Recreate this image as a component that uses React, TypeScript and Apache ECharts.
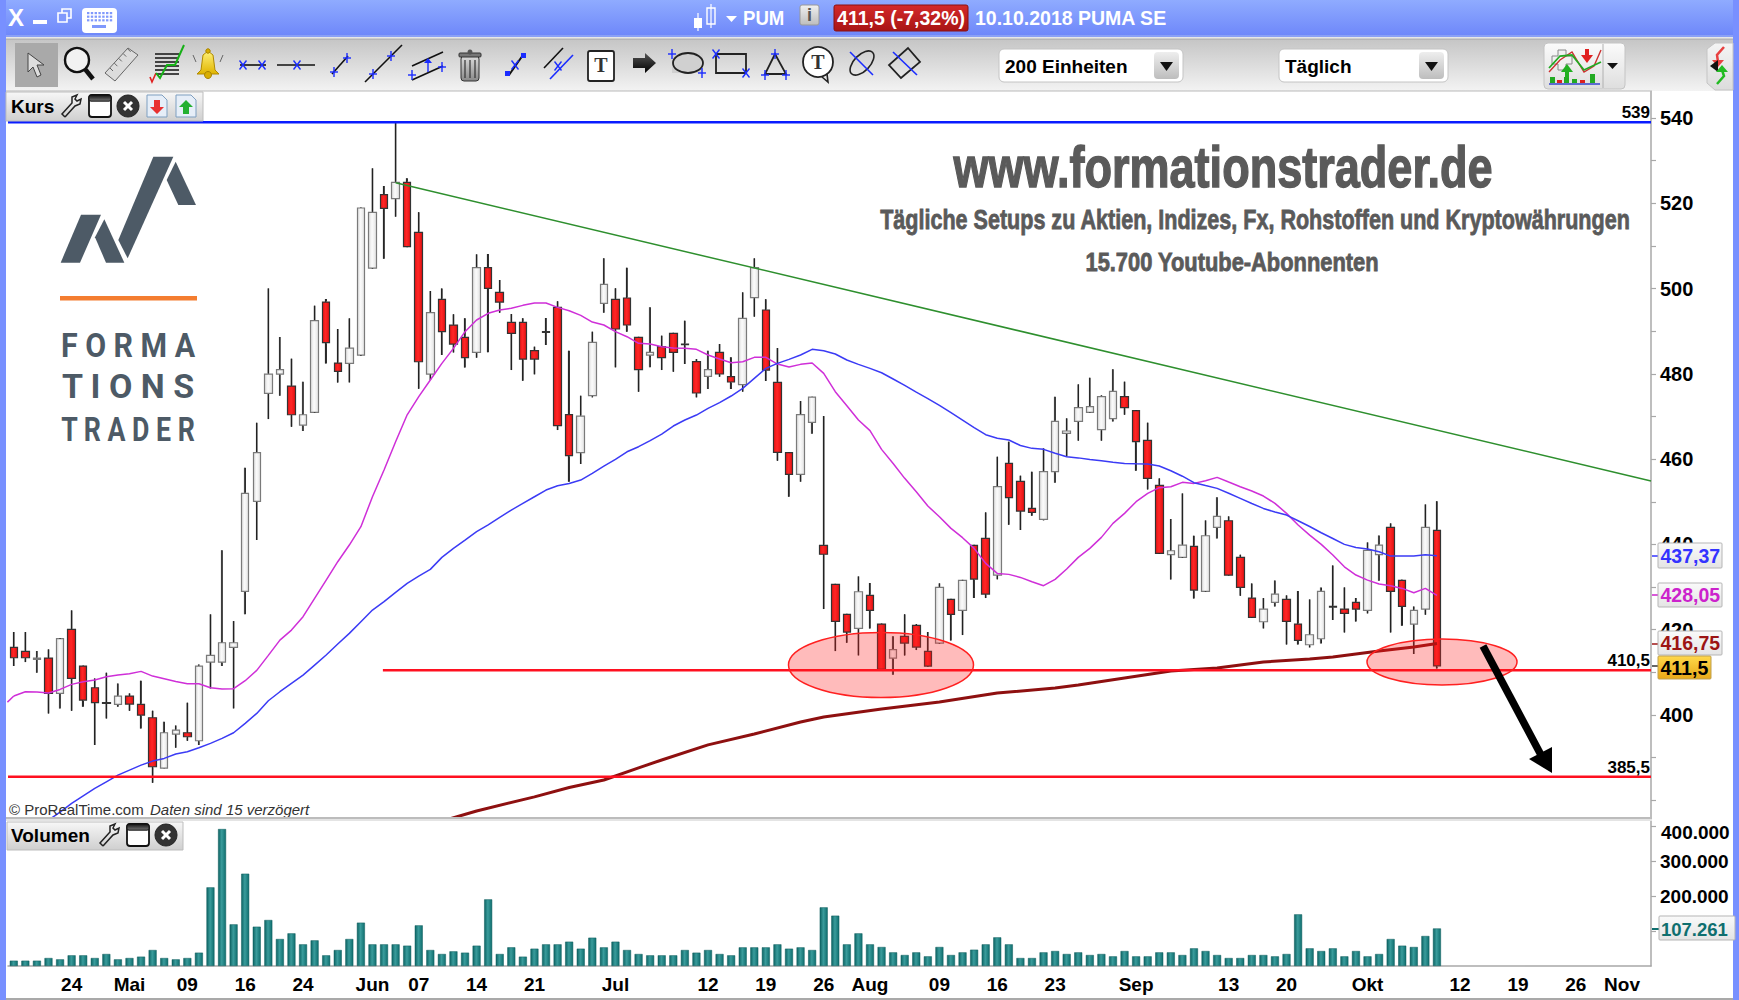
import React, { useEffect, useRef } from "react";
import * as echarts from "echarts";

// ---------- DATA ----------
const SLOTS = 142;
const tickLabelByIndex: Record<number, string> = {
  5: "24", 10: "Mai", 15: "09", 20: "16", 25: "24", 31: "Jun", 35: "07", 40: "14", 45: "21", 52: "Jul",
  60: "12", 65: "19", 70: "26", 74: "Aug", 80: "09", 85: "16", 90: "23", 97: "Sep", 105: "13", 110: "20",
  117: "Okt", 125: "12", 130: "19", 135: "26", 139: "Nov",
};
const categories: string[] = Array.from({ length: SLOTS }, (_, i) => tickLabelByIndex[i] ?? "");

// [open, close, low, high]
const candles: number[][] = [
  [415.85,413.43,411.48,419.45],[414.92,413.43,412.41,419.45],[413.04,413.35,409.91,414.99],[413.35,405.06,400.37,415.39],
  [405.06,417.89,401.55,417.89],[420.08,408.58,401,424.53],[411.48,403.5,401.94,411.48],[406.39,402.88,392.95,408.58],
  [402.88,402.72,399.2,409.91],[402.48,404.44,401.94,407.41],[404.44,402.56,401,405.06],[402.48,399.98,396.85,408.04],
  [399.36,387.86,384.11,401],[387.55,395.84,387.47,398.42],[395.53,396.46,392.32,397.56],[395.84,394.9,393.96,402.88],
  [393.96,411.48,392.95,411.87],[412.41,413.98,406.24,423.6],[412.41,416.95,411.48,438.61],[415.85,416.95,401.55,422.03],
  [428.99,451.98,423.6,458],[450.1,461.52,441.03,468.55],[475.43,479.96,469.4,500.05],[479.96,480.98,474.88,488.64],
  [477.14,470.42,467.6,483.56],[468,470.42,466.59,478.16],[470.97,492.47,470.97,496],[496.85,487.31,482.46,497.55],
  [482.54,480.58,478,490.5],[482.46,486.06,478,493.02],[484.4,518.9,484.4,518.9],[504.82,517.88,504.82,528.2],
  [522.03,518.82,507,524.06],[521.09,524.92,516.86,539],[524.92,509.83,509.83,525.86],[513.19,482.85,476.52,517.88],
  [479.96,494.35,478.55,499.43],[497.47,489.89,484.4,500.05],[491.45,486.98,485.04,493.96],[488.56,483.79,481.52,493.02],
  [485.04,504.9,483.79,508.03],[504.91,500.06,485.05,508.11],[499.12,496.85,494.35,502.02],[492.09,489.51,480.9,494.04],
  [492.09,483.48,478.4,493.02],[485.44,483.48,479.89,486.38],[489.9,489.74,486.77,493.1],[495.6,467.85,466.83,497.01],
  [470.43,460.81,454.71,485.44],[461.51,470.11,458.86,474.88],[474.88,487.39,474.49,489.9],[496.54,501,494.35,507.1],
  [497.48,490.52,481.53,500.06],[497.79,491.46,489.9,504.91],[488.57,480.98,475.82,488.57],[484.42,485.05,481.53,495.6],
  [486.38,483.8,480.9,488.96],[489.51,485.05,480.51,489.51],[487,486.85,482.31,492.48],[482.86,475.51,474.49,483.48],
  [479.42,480.98,476.45,485.44],[485.05,479.97,479.34,487],[479.34,478.09,476.45,483.88],[477.46,493.02,475.82,499.12],
  [497.87,504.91,493.41,507.1],[494.98,480.9,478.33,497.48],[478.01,461.59,459.64,486.06],[461.51,456.43,451.19,461.59],
  [456.43,470.43,454.71,473.63],[468.63,474.57,465.97,474.65],[439.8,437.7,424.85,470.1],[430.63,421.95,414.99,430.63],
  [423.6,419.45,416.95,423.6],[420.31,428.91,413.98,432.51],[428.05,424.53,420.31,430.94],[421.33,410.69,410.69,421.33],
  [413.35,415.31,409.44,418.44],[418.44,416.87,413.98,423.6],[421.02,415.93,415.23,421.33],[414.92,411.48,411.48,419.45],
  [416.87,429.93,416.87,430.87],[427.11,423.6,417.5,427.11],[424.53,431.57,418.75,431.57],[439.78,431.88,427.43,439.78],
  [441.42,428.37,427.43,447.52],[432.82,453.54,431.81,460.58],[459.02,450.96,444.63,464.1],[454.79,447.83,443.38,456.12],
  [448.46,447.52,446.74,457.06],[445.88,457.06,445.65,462.53],[457.06,468.86,454.48,474.65],[466.05,466.6,460.58,469.57],
  [468.86,472.07,464.33,477.54],[470.97,472.3,470.97,479.11],[466.91,474.65,464.33,474.96],[469.49,475.9,468.86,481.06],
  [474.65,472.07,470.43,478.17],[471.37,464.09,457.29,471.37],[464.41,455.49,452.91,468.55],[453.85,437.9,437.9,455.49],
  [437.59,438.52,431.8,445.95],[436.96,439.85,436.96,451.97],[439.54,429.3,427.34,442.04],[429,442.04,429,445.64],
  [444,446.58,441.42,451.04],[445.56,432.82,432.82,446.58],[436.96,429.92,427.97,437.59],[427.42,422.89,422.89,430.86],
  [421.87,424.84,420.31,427.42],[426.41,428.36,425.47,431.57],[427.11,421.95,416.55,428.05],[421.32,417.49,416.55,429.07],
  [416.48,418.82,415.85,427.11],[417.88,428.99,416.79,429.92],[425.47,425.31,422.26,435.09],[424.84,423.83,419.37,429.92],
  [426.41,424.84,421.95,427.42],[424.53,438.6,423.83,440.48],[437.59,439.85,431.49,442.12],[444,429,419.37,444.94],
  [431.57,425.47,420.93,431.8],[421.32,424.53,414.29,425.47],[424.84,444,423.51,449.39],[443.29,411.5,410.93,450.1],
];

const maMagenta: number[] = [
  404.44,405.46,405.38,405.14,406,407.18,407.8,408.19,408.97,409.36,409.68,410.23,409.13,408.5,407.88,407.33,407.33,406.39,406.08,406.16,
  408.04,410.46,413.98,417.57,419.92,423.05,427.35,431.65,435.95,439.86,444.16,451.2,457.45,464.1,470.4,474.65,478.56,482.47,485.99,489.9,
  492.63,494.2,494.98,495.37,496.07,496.62,496.62,495.6,494.82,493.73,492.16,491.46,489.9,488.72,487.16,487,486.38,486.06,485.99,485.75,
  484.42,483.48,482.63,482.86,483.88,483.88,482.31,481.61,482.23,482.55,480.12,475.82,472.54,469.18,466.68,462.3,459,455.5,452.37,449,
  446.5,443.77,441.58,439.08,435.56,433.21,432.98,432.27,431.26,430.32,431.81,434.23,436.97,439.08,441.66,444.94,447.29,450.02,451.98,453.31,
  453.54,454.56,454.32,454.95,455.73,454.63,453.54,452.52,451.35,449.63,447.29,444.55,442.2,440.01,437.51,434.76,432.82,431.63,430.71,430.32,
  429.69,428.67,429.69,428.05,
];
const maMagentaLead: number[][] = [[-0.55,403.0],[0,404.44]];
const maBlue: (number | null)[] = [
  null,null,null,375.35,377.23,379.26,381.06,382.78,384.34,385.91,387.08,388.25,389.19,389.82,390.84,391.38,392.32,393.34,394.51,395.84,
  398.03,400.37,403.34,405.46,407.41,409.36,411.71,414.06,416.64,419.14,421.88,424.61,426.57,428.76,430.87,432.59,434.15,436.97,439.08,441.03,
  442.99,444.6,446.34,448.07,449.63,451.19,452.76,453.76,454.31,455.1,456.67,458.37,459.95,461.73,462.92,464.33,465.88,467.77,469.18,470.35,
  471.91,473.25,474.81,476.6,478.95,481.29,482.47,483.4,484.42,485.75,485.44,484.66,483.25,482.23,481.29,480.27,478.8,477.3,475.7,474.2,
  472.6,470.9,469.18,467.4,465.74,464.9,464.49,463.2,462.53,462.3,461.4,460.58,460.3,459.9,459.64,459.3,459.01,458.9,458.86,458.4,
  457.29,456,454.48,453.8,453.15,452,450.8,449.6,448.45,447.6,446.89,445.56,444.2,442.75,441.4,440.01,439.3,438.92,438.3,437.27,
  437.27,437.27,437.59,437.37,
];
// slow average: points [bar index, value]
const ma200Points: number[][] = [
  [37.5,375.5],[40,377.5],[45,380.8],[48,383],[51,384.76],[54,387.6],[56,389.45],[60,393],[64,395.54],[68,398.36],[70,399.53],[75,401.41],
  [80,403.05],[85,405.16],[90,406.33],[92,407.04],[96,408.68],[100,410.32],[104,411.02],[108,412.43],[112,413.13],[114,413.6],[118,415],[121,415.95],[123,416.75],
];
const trendLinePoints: number[][] = [[33,524.8],[141.5,454.9]];
const resistance539: number[][] = [[-0.5,539],[141.5,539]];
const support4105: number[][] = [[31.9,410.5],[141.5,410.5]];
const support3855: number[][] = [[-0.5,385.5],[141.5,385.5]];

const volumes: number[] = [
  15200,15200,15200,22800,19000,30500,30500,22800,34300,19000,22800,26700,45700,22800,19000,22800,38100,224700,391300,119000,
  263700,112300,131400,77100,93300,61900,73300,30500,45700,77100,123800,61900,61900,61900,58100,116100,45700,34300,41900,38100,
  58100,190400,34300,53300,26700,49500,61900,61900,69500,49500,80900,53300,69500,45700,34300,30500,30500,30500,45700,38100,
  45700,34300,30500,53300,53300,53300,61900,49500,53300,45700,167600,143800,61900,93300,61900,54300,39000,31400,39000,27600,
  54300,31400,39000,46600,61900,81900,61900,22800,22800,39000,42800,34300,39000,31400,34300,27600,42800,27600,27600,39000,
  39000,31400,50500,42800,31400,22800,22800,31400,31400,27600,34300,147600,50500,42800,50500,27600,42800,27600,34300,77100,
  58100,54300,85700,107261,
];

const priceLabelTicks = [400,420,440,460,480,500,520,540];
const priceAllTicks = [380,390,400,410,420,430,440,450,460,470,480,490,500,510,520,530,540];
const volumeTicks = [100000,200000,300000,400000];
const volumeLabelTicks = [200000,300000];

// ---------- helpers for page furniture ----------
const SANS = '"Liberation Sans", Arial, sans-serif';
const txt = (text: string, x: number, y: number, font: string, fill: string, align = "left", extra: any = {}) => {
  const { styleExtra, ...rest } = extra;
  return {
    type: "text", x, y, z: 20, silent: true, ...rest,
    style: { text, font, fill, align, verticalAlign: "middle", ...(styleExtra ?? {}) },
  };
};
const rect = (x: number, y: number, w: number, h: number, fill: any, stroke?: string, r = 0, z = 15, lw = 1) => ({
  type: "rect", z, silent: true, shape: { x, y, width: w, height: h, r },
  style: { fill, stroke: stroke ?? "none", lineWidth: lw },
});
const ln = (x1: number, y1: number, x2: number, y2: number, stroke = "#111", lw = 1.6, z = 16) => ({
  type: "line", z, silent: true, shape: { x1, y1, x2, y2 }, style: { stroke, lineWidth: lw },
});
const poly = (points: number[][], fill: any, stroke?: string, lw = 1, z = 16) => ({
  type: "polygon", z, silent: true, shape: { points }, style: { fill, stroke: stroke ?? "none", lineWidth: lw },
});
const pline = (points: number[][], stroke: string, lw = 1.6, z = 16) => ({
  type: "polyline", z, silent: true, shape: { points }, style: { fill: "none", stroke, lineWidth: lw },
});
const circ = (cx: number, cy: number, r: number, fill: any, stroke?: string, lw = 1, z = 16) => ({
  type: "circle", z, silent: true, shape: { cx, cy, r }, style: { fill, stroke: stroke ?? "none", lineWidth: lw },
});
const ell = (cx: number, cy: number, rx: number, ry: number, fill: any, stroke: string, lw = 1.5, z = 10) => ({
  type: "ellipse", z, silent: true, shape: { cx, cy, rx, ry }, style: { fill, stroke, lineWidth: lw },
});
const vGrad = (a: string, b: string) => new echarts.graphic.LinearGradient(0, 0, 0, 1, [{ offset: 0, color: a }, { offset: 1, color: b }]);
const hGrad3 = (a: string, b: string, c: string) =>
  new echarts.graphic.LinearGradient(0, 0, 1, 0, [{ offset: 0, color: a }, { offset: 0.45, color: b }, { offset: 1, color: c }]);

const BLUEMARK = "#1a2cff";
const plus = (x: number, y: number) => [ln(x - 4, y, x + 4, y, BLUEMARK, 1.4, 17), ln(x, y - 5, x, y + 5, BLUEMARK, 1.4, 17)];
const cross = (x: number, y: number) => [ln(x - 3.5, y - 4.5, x + 3.5, y + 4.5, BLUEMARK, 1.4, 17), ln(x - 3.5, y + 4.5, x + 3.5, y - 4.5, BLUEMARK, 1.4, 17)];
const wrench = (x: number, y: number, h = 11) => [
  pline([[x - 6, y + h], [x - 9, y + h - 3], [x + 1, y - 3], [x + 1, y - h + 2], [x + 6, y - h], [x + 4, y - h + 4], [x + 6, y - 5], [x + 10, y - 7], [x + 9, y - 2], [x + 4, y], [x - 6, y + h]], "#222", 1.5),
];
const winIcon = (x: number, y: number, w = 22, h = 22) => [
  rect(x - w / 2, y - h / 2, w, h, "#ffffff", "#111", 3, 16, 1.8),
  rect(x - w / 2, y - h / 2, w, h * 0.28, vGrad("#111", "#777"), "#111", 2, 16),
];
const closeIcon = (x: number, y: number, r = 11) => [
  circ(x, y, r, "#333", "#222"),
  ln(x - 4, y - 4, x + 4, y + 4, "#fff", 3, 17),
  ln(x - 4, y + 4, x + 4, y - 4, "#fff", 3, 17),
];
const docIcon = (x: number, y: number, col: string, up: boolean) => [
  poly([[x - 10, y - 11], [x + 5, y - 11], [x + 10, y - 6], [x + 10, y + 11], [x - 10, y + 11]], "#e6eef8", "#7f9fc0", 1),
  up
    ? poly([[x, y - 6], [x + 7, y + 1], [x + 3, y + 1], [x + 3, y + 8], [x - 3, y + 8], [x - 3, y + 1], [x - 7, y + 1]], col)
    : poly([[x, y + 8], [x + 7, y + 1], [x + 3, y + 1], [x + 3, y - 6], [x - 3, y - 6], [x - 3, y + 1], [x - 7, y + 1]], col),
];
const dropdown = (x: number, w: number, label: string, btnX: number) => [
  rect(x, 49, w, 33, "#ffffff", "#c4c4c4", 5, 15),
  txt(label, x + 6, 66, `bold 19px ${SANS}`, "#000"),
  rect(btnX, 52, 25, 27, vGrad("#eeeeee", "#bdbdbd"), "none", 4, 16),
  poly([[btnX + 6, 62], [btnX + 19, 62], [btnX + 12.5, 71]], "#111"),
];
const valueBox = (x: number, y: number, w: number, h: number, label: string, color: string, tickY: number, font = 19.5) => [
  rect(x, y, w, h, vGrad("#fafafa", "#e4e4e4"), "#b5b5b5", 1, 15),
  ln(1652, tickY, x, tickY, color, 1.5, 14),
  txt(label, x + 2.5, y + h / 2, `bold ${font}px ${SANS}`, color),
];

function furniture(): any[] {
  const g: any[] = [];
  // window frame
  g.push(rect(0, 0, 1739, 35, vGrad("#8fabff", "#6f88fa"), undefined, 0, 1));
  g.push(rect(0, 35, 1739, 2, "#8aa0f5", undefined, 0, 1));
  g.push(rect(0, 37, 1739, 3, vGrad("#f4f4f4", "#a8a8a8"), undefined, 0, 1));
  g.push(rect(0, 40, 1739, 51, vGrad("#c6c6c6", "#f3f3f3"), undefined, 0, 1));
  g.push(rect(0, 0, 6, 1000, "#7890ff", undefined, 0, 12));
  g.push(rect(1733, 0, 6, 1000, "#7890ff", undefined, 0, 12));
  g.push(rect(6, 998, 1727, 2, "#a9a9a9", undefined, 0, 12));
  g.push(ln(6, 91, 1652, 91, "#b9b9b9", 1, 12));
  g.push(rect(6, 817, 1646, 2, "#bcbcbc", undefined, 0, 12));
  g.push(rect(6, 819, 1646, 2, "#e4e4e4", undefined, 0, 12));

  // title bar
  g.push(txt("X", 16, 17, `bold 24px ${SANS}`, "#fff", "center"));
  g.push(rect(33, 20, 14, 4, "#fff", undefined, 0, 16));
  g.push(rect(62, 9, 9, 9, "none", "#fff", 0, 16, 1.6));
  g.push(rect(58, 13, 9, 9, "#8099fc", "#fff", 0, 16, 1.6));
  g.push(rect(82, 8, 35, 25, "#ffffff", undefined, 4, 16));
  for (let r = 0; r < 3; r++) for (let c = 0; c < 7; c++) g.push(rect(87 + c * 3.8, 12 + r * 3.6, 2.4, 2.2, "#8099fc", undefined, 0, 17));
  g.push(rect(92, 25, 14, 3, "#8099fc", undefined, 0, 17));
  g.push(ln(698, 13, 698, 31, "#fff", 1.2), rect(694, 18, 8, 10, "#fff", undefined, 0, 16));
  g.push(ln(711, 4, 711, 28, "#fff", 1.2), rect(707, 8, 8, 16, "none", "#fff", 0, 16, 1.4));
  g.push(poly([[726, 16], [737, 16], [731.5, 22]], "#fff"));
  g.push(txt("PUM", 743, 18, `bold 20px ${SANS}`, "#fff", "left", { scaleX: 0.93 }));
  g.push(rect(800, 5, 19, 20, vGrad("#f0f0f0", "#bdbdbd"), "#999", 2, 16));
  g.push(txt("i", 809.5, 15, `bold 18px ${SANS}`, "#555", "center"));
  g.push(rect(834, 5, 134, 26, vGrad("#d42a2a", "#a81414"), "#8a1010", 2, 16));
  g.push(txt("411,5 (-7,32%)", 901, 18, `bold 19.5px ${SANS}`, "#fff", "center"));
  g.push(txt("10.10.2018 PUMA SE", 975, 18, `bold 19.5px ${SANS}`, "#fff"));

  // toolbar
  g.push(rect(15, 43, 43, 44, "#a9a9a9", undefined, 0, 14));
  g.push(poly([[28, 53], [28, 72], [33, 67], [37, 77], [41, 75], [37, 65], [44, 65]], "#dedede", "#444"));
  g.push(circ(77, 60, 12, "#f2f2f2", "#111", 2.4));
  g.push(ln(85, 69, 93, 79, "#111", 4.5));
  g.push(poly([[105, 73], [128, 48], [138, 55], [115, 81]], "#dcdcdc", "#666"));
  for (let i = 0; i < 5; i++) g.push(ln(110 + i * 4.4, 68 - i * 4.8, 113 + i * 4.4, 71 - i * 4.8, "#666", 1));
  for (let i = 0; i < 6; i++) g.push(ln(155, 54 + i * 4, 179, 54 + i * 4, "#333", 1.8));
  g.push(pline([[150, 77], [152, 82], [156, 73]], "#e02020", 1.6));
  g.push(pline([[156, 73], [160, 78], [167, 65], [175, 65], [184, 45]], "#16b016", 2));
  g.push(poly([[208, 51], [213, 55], [215, 70], [219, 74], [197, 74], [201, 70], [203, 55]], vGrad("#fff27a", "#e0b400"), "#b08a00"));
  g.push(circ(208, 75, 3.5, "#d9ae00", "#a88400"), circ(208, 51, 2.2, "#d9ae00", "#a88400"));
  g.push(ln(193, 55, 196, 62, "#666", 1), ln(223, 55, 220, 62, "#666", 1));

  g.push(ln(240, 65, 266, 65, "#111"), ...cross(243, 65), ...cross(262, 65));
  g.push(ln(277, 65, 315, 65, "#111"), ...cross(297, 65));
  g.push(ln(332, 74, 348, 56, "#111"), ...plus(334, 72), ...plus(347, 58));
  g.push(ln(365, 82, 402, 45, "#111"), ...plus(373, 74), ...plus(391, 56));
  g.push(ln(412, 66, 443, 52, "#111"), ln(412, 80, 443, 66, "#111"), ...plus(412, 75), ...plus(442, 67), ln(428, 60, 428, 72, BLUEMARK, 1.4, 17), poly([[428, 58], [424, 63], [432, 63]], BLUEMARK));
  g.push(rect(461, 56, 18, 25, vGrad("#dddddd", "#888888"), "#333", 3), rect(459, 53, 22, 4, "#777", "#333", 1), circ(470, 52, 2.5, "#555"));
  for (let i = 0; i < 3; i++) g.push(ln(465 + i * 5, 60, 465 + i * 5, 78, "#333", 1.2));
  g.push(ln(509, 75, 523, 55, "#111", 2), rect(505, 71, 5, 5, BLUEMARK, undefined, 0, 17), rect(521, 53, 5, 5, BLUEMARK, undefined, 0, 17), ...cross(515, 65));
  g.push(ln(544, 68, 563, 48, "#111", 1.6), ln(550, 79, 573, 55, BLUEMARK, 1.6), ...cross(558, 66));
  g.push(rect(588, 51, 26, 30, "#fff", "#222", 2, 16, 1.8), txt("T", 601, 65, `bold 20px "Liberation Serif", serif`, "#333", "center"));
  g.push(poly([[633, 58], [645, 58], [645, 53], [656, 63], [645, 73], [645, 68], [633, 68]], vGrad("#555", "#000")));
  g.push(rect(672, 53, 31, 20, "#d0d0d0", undefined, 0, 15), ell(688, 63, 15, 10, "none", "#222", 1.8, 16), ...plus(672, 54), ...plus(702, 73));
  g.push(rect(716, 54, 30, 19, "none", "#222", 0, 16, 1.8), ...cross(716, 54), ...cross(746, 73));
  g.push(poly([[775, 54], [786, 74], [765, 74]], "none", "#222", 1.8), ...plus(775, 54), ...plus(765, 75), ...plus(786, 75));
  g.push(circ(818, 62, 15, "#fff", "#222", 1.8), txt("T", 818, 62, `bold 20px "Liberation Serif", serif`, "#333", "center"), pline([[822, 77], [828, 82], [827, 74]], "#222", 1.6));
  g.push({ type: "ellipse", z: 16, silent: true, x: 862, y: 63, rotation: 0.8, shape: { cx: 0, cy: 0, rx: 15, ry: 8 }, style: { fill: "none", stroke: "#222", lineWidth: 1.6 } }, ln(850, 52, 873, 75, BLUEMARK, 1.6, 17));
  g.push(poly([[908, 48], [920, 62], [901, 78], [889, 65]], "none", "#222", 1.8), ln(893, 52, 917, 75, BLUEMARK, 1.6, 17));

  g.push(...dropdown(999, 184, "200 Einheiten", 1154));
  g.push(...dropdown(1279, 169, "Täglich", 1419));

  g.push(rect(1544, 43, 81, 46, vGrad("#fbfbfb", "#dedede"), "#c4c4c4", 4, 15));
  g.push(ln(1603, 44, 1603, 88, "#b0b0b0", 1));
  g.push(poly([[1552, 56], [1558, 56], [1558, 50], [1566, 50], [1566, 56], [1572, 56], [1572, 64], [1566, 64], [1566, 70], [1558, 70], [1558, 64], [1552, 64]], "#f1f1f1", "#888"));
  g.push(pline([[1549, 72], [1560, 60], [1572, 52], [1584, 72], [1594, 66], [1601, 50]], "#cc3030", 1.4));
  g.push(pline([[1549, 68], [1560, 56], [1572, 55], [1584, 70], [1601, 62]], "#22aa22", 1.8));
  g.push(poly([[1587, 63], [1581, 55], [1585, 55], [1585, 49], [1589, 49], [1589, 55], [1593, 55]], "#e02020"));
  g.push(poly([[1567, 64], [1561, 72], [1565, 72], [1565, 78], [1569, 78], [1569, 72], [1573, 72]], "#22b022"));
  g.push(rect(1550, 77, 5, 6, "#22aa22"), rect(1557, 80, 5, 3, "#dd2020"), rect(1564, 77, 5, 6, "#22aa22"), rect(1572, 79, 5, 4, "#22aa22"), rect(1580, 80, 5, 3, "#dd2020"), rect(1590, 74, 5, 9, "#22aa22"));
  g.push(ln(1549, 84, 1600, 84, "#3344cc", 1.6));
  g.push(poly([[1607, 63], [1618, 63], [1612.5, 69]], "#111"));
  g.push(poly([[1707, 49], [1715, 43], [1733, 43], [1733, 90], [1715, 90], [1707, 83]], vGrad("#f4f4f4", "#dcdcdc"), "#c4c4c4"));
  g.push(pline([[1724, 47], [1717, 55], [1718, 62]], "#e84040", 2.5), poly([[1712, 60], [1724, 60], [1718, 67]], "#e84040"));
  g.push(poly([[1710, 66], [1718, 60], [1718, 72]], "#111"));
  g.push(pline([[1717, 84], [1724, 76], [1722, 70]], "#22bb22", 2.5), poly([[1716, 72], [1728, 72], [1722, 65]], "#22bb22"));

  // price pane tab
  g.push(rect(6, 92, 197, 29, vGrad("#f7f7f7", "#cfcfcf"), "#bdbdbd", 0, 15));
  g.push(txt("Kurs", 11, 106, `bold 19px ${SANS}`, "#000"));
  g.push(...wrench(71, 106), ...winIcon(100, 106), ...closeIcon(128, 106), ...docIcon(157, 106, "#e83030", false), ...docIcon(186, 106, "#22b030", true));
  // volume pane tab
  g.push(rect(7, 822, 176, 28, vGrad("#f7f7f7", "#cfcfcf"), "#bdbdbd", 0, 15));
  g.push(txt("Volumen", 11, 835, `bold 19px ${SANS}`, "#000"));
  g.push(...wrench(109, 835), ...winIcon(138, 835), ...closeIcon(166, 835));

  // logo
  const LOGO = "#4d5a66";
  const lp = (pts: number[][]) => poly(pts.map(([x, v]) => [x / 3, 120 + v / 3]), LOGO, undefined, 0, 3);
  g.push(lp([[182, 428], [243, 284], [303, 284], [240, 428]]));
  g.push(lp([[285, 352], [313, 298], [373, 428], [318, 428]]));
  g.push(lp([[355, 360], [460, 110], [520, 110], [383, 415]]));
  g.push(lp([[500, 180], [527, 125], [588, 255], [535, 255]]));
  g.push(rect(60, 296, 137, 4.5, "#f47d30", undefined, 0, 3));
  const LF = `700 33px Roboto, ${SANS}`;
  g.push(txt("F O R M A", 128, 346, LF, LOGO, "center", { scaleX: 0.92 }));
  g.push(txt("T I O N S", 128, 387, LF, LOGO, "center", { scaleX: 1.03 }));
  g.push(txt("T R A D E R", 128, 429, LF, LOGO, "center", { scaleX: 0.81 }));

  // site banner (heavy condensed lettering)
  const BAN = "#5a5a5a";
  g.push(txt("www.formationstrader.de", 1223, 167, `bold 58px ${SANS}`, BAN, "center", { z: 3, scaleX: 0.777, styleExtra: { stroke: BAN, lineWidth: 1.4 } }));
  g.push(txt("Tägliche Setups zu Aktien, Indizes, Fx, Rohstoffen und Kryptowährungen", 1255, 219, `bold 28px ${SANS}`, BAN, "center", { z: 3, scaleX: 0.77, styleExtra: { stroke: BAN, lineWidth: 0.8 } }));
  g.push(txt("15.700 Youtube-Abonnenten", 1232, 262, `bold 25px ${SANS}`, BAN, "center", { z: 3, scaleX: 0.875, styleExtra: { stroke: BAN, lineWidth: 0.8 } }));

  // copyright
  g.push(txt("© ProRealTime.com", 9, 809, `15px ${SANS}`, "#333", "left", { z: 9 }));
  g.push(txt("Daten sind 15 verzögert", 150, 809, `italic 15px ${SANS}`, "#333", "left", { z: 9 }));

  // ellipses and arrow
  g.push(ell(881, 665, 92.5, 32.5, "rgba(255,30,30,0.30)", "#ff2020"));
  g.push(ell(1442, 662, 75, 23, "rgba(255,30,30,0.30)", "#ff2020"));
  g.push(ln(1483, 646, 1541, 755, "#000", 7.5, 11));
  g.push(poly([[1529, 759], [1552, 747], [1552, 773]], "#000", undefined, 0, 11));

  // level labels
  const LV = `bold 17px ${SANS}`;
  g.push(txt("539", 1650, 112, LV, "#000", "right"));
  g.push(txt("410,5", 1650, 660, LV, "#000", "right"));
  g.push(txt("385,5", 1650, 767, LV, "#000", "right"));

  // value tags on the scale
  g.push(...valueBox(1658, 543, 64, 25, "437,37", "#3333ff", 556));
  g.push(...valueBox(1658, 583, 64, 24, "428,05", "#cc22cc", 595));
  g.push(...valueBox(1658, 631, 64, 24, "416,75", "#9c1414", 644));
  g.push(rect(1658, 656, 53, 23, vGrad("#ffd84a", "#e8a818"), "#bfa050", 1, 16));
  g.push(ln(1652, 666, 1658, 666, "#333", 1.5, 14));
  g.push(txt("411,5", 1660.5, 668, `bold 19.5px ${SANS}`, "#000"));
  g.push(txt("400.000", 1661, 832, `bold 19px ${SANS}`, "#000"));
  g.push(rect(1659, 916, 76, 24, vGrad("#fafafa", "#e4e4e4"), "#b5b5b5", 1, 15));
  g.push(ln(1652, 929, 1659, 929, "#0f6f6f", 2, 14));
  g.push(txt("107.261", 1661, 929, `bold 18.5px ${SANS}`, "#0f6f6f"));
  return g;
}

export default function App() {
  const ref = useRef<HTMLDivElement>(null);
  useEffect(() => {
    document.body.style.margin = "0";
    document.body.style.background = "#fff";
    const chart = echarts.init(ref.current!, undefined, { renderer: "svg" });
    const axisColor = "#a8a8a8";
    const labelIsShown = (_: number, v: string) => v !== "";
    const option: any = {
      animation: false,
      backgroundColor: "#ffffff",
      grid: [
        { left: 8, width: 1643, top: 91, height: 726 },
        { left: 8, width: 1643, top: 821, height: 145 },
      ],
      xAxis: [
        { type: "category", gridIndex: 0, data: categories, axisLine: { show: false }, axisTick: { show: false }, axisLabel: { show: false }, splitLine: { show: false } },
        {
          type: "category", gridIndex: 1, data: categories,
          axisLine: { lineStyle: { color: axisColor, width: 1.5 } },
          axisTick: { alignWithLabel: true, interval: labelIsShown, length: 5, lineStyle: { color: axisColor, width: 1.5 } },
          axisLabel: { interval: labelIsShown, margin: 9, color: "#000", fontWeight: "bold", fontSize: 19, fontFamily: SANS, hideOverlap: false },
          splitLine: { show: false },
        },
        { type: "value", gridIndex: 0, min: -0.5, max: SLOTS - 0.5, show: false, splitLine: { show: false } },
      ],
      yAxis: [
        {
          type: "value", gridIndex: 0, position: "right", min: 376.08, max: 546.34, scale: true,
          axisLine: { show: true, onZero: false, lineStyle: { color: axisColor, width: 1.5 } },
          axisTick: { show: true, customValues: priceAllTicks, length: 5, lineStyle: { color: axisColor, width: 1.2 } },
          axisLabel: { customValues: priceLabelTicks, margin: 9, color: "#000", fontWeight: "bold", fontSize: 20, fontFamily: SANS, showMinLabel: true, showMaxLabel: true },
          splitLine: { show: false },
        },
        {
          type: "value", gridIndex: 1, position: "right", min: 0, max: 414286,
          axisLine: { show: true, lineStyle: { color: axisColor, width: 1.5 } },
          axisTick: { show: true, customValues: volumeTicks, length: 5, lineStyle: { color: axisColor, width: 1.2 } },
          axisLabel: { customValues: volumeLabelTicks, margin: 9, color: "#000", fontWeight: "bold", fontSize: 19, fontFamily: SANS, formatter: (v: number) => `${v / 1000}.000` },
          splitLine: { show: false },
        },
      ],
      series: [
        {
          name: "Kurs", type: "candlestick", xAxisIndex: 0, yAxisIndex: 0, data: candles, barWidth: 8, z: 3,
          itemStyle: {
            color: hGrad3("#dcdcdc", "#fbfbfb", "#e2e2e2"),
            color0: hGrad3("#e81414", "#ff2626", "#e01010"),
            borderColor: "#7a7a7a", borderColor0: "#333333", borderWidth: 1.2,
          },
        },
        {
          name: "Dochte", type: "custom", xAxisIndex: 0, yAxisIndex: 0, z: 4,
          data: candles.map((c, i) => [i, ...c]),
          encode: { x: 0, y: [1, 2, 3, 4] },
          renderItem: (_: any, api: any) => {
            const i = api.value(0);
            const o = api.value(1), c = api.value(2), l = api.value(3), h = api.value(4);
            const x = api.coord([i, o])[0];
            const yT = api.coord([i, Math.max(o, c)])[1], yB = api.coord([i, Math.min(o, c)])[1];
            const yH = api.coord([i, h])[1], yL = api.coord([i, l])[1];
            const s = { stroke: "#222222", lineWidth: 1.5 };
            return { type: "group", children: [
              { type: "line", shape: { x1: x, y1: yH, x2: x, y2: yT - 0.6 }, style: s },
              { type: "line", shape: { x1: x, y1: yB + 0.6, x2: x, y2: yL }, style: s },
            ] };
          },
        },
        { name: "MA20", type: "line", xAxisIndex: 0, yAxisIndex: 0, data: maMagenta, symbol: "none", z: 5, lineStyle: { color: "#cf2fd8", width: 1.5 } },
        { name: "MA20 lead", type: "line", xAxisIndex: 2, yAxisIndex: 0, data: maMagentaLead, symbol: "none", z: 5, lineStyle: { color: "#cf2fd8", width: 1.5 } },
        { name: "MA50", type: "line", xAxisIndex: 0, yAxisIndex: 0, data: maBlue, symbol: "none", z: 5, lineStyle: { color: "#3b3bf5", width: 1.5 } },
        { name: "MA200", type: "line", xAxisIndex: 2, yAxisIndex: 0, data: ma200Points, symbol: "none", z: 5, lineStyle: { color: "#8e1010", width: 3 } },
        { name: "Trend", type: "line", xAxisIndex: 2, yAxisIndex: 0, data: trendLinePoints, symbol: "none", z: 5, lineStyle: { color: "#2e8f2e", width: 1.5 } },
        { name: "539", type: "line", xAxisIndex: 2, yAxisIndex: 0, data: resistance539, symbol: "none", z: 5, lineStyle: { color: "#0a1cff", width: 2.5 } },
        { name: "410,5", type: "line", xAxisIndex: 2, yAxisIndex: 0, data: support4105, symbol: "none", z: 6, lineStyle: { color: "#ff1020", width: 2.5 } },
        { name: "385,5", type: "line", xAxisIndex: 2, yAxisIndex: 0, data: support3855, symbol: "none", z: 6, lineStyle: { color: "#ff1020", width: 2.5 } },
        {
          name: "Volumen", type: "bar", xAxisIndex: 1, yAxisIndex: 1, data: volumes, barWidth: 8,
          itemStyle: { color: hGrad3("#0d6464", "#3a9c9c", "#0f6e6e"), borderColor: "#0e5c5c", borderWidth: 0.5 },
        },
      ],
      graphic: { elements: furniture() },
    };
    chart.setOption(option);
    return () => chart.dispose();
  }, []);
  return <div ref={ref} style={{ position: "absolute", left: 0, top: 0, width: 1739, height: 1000 }} />;
}
